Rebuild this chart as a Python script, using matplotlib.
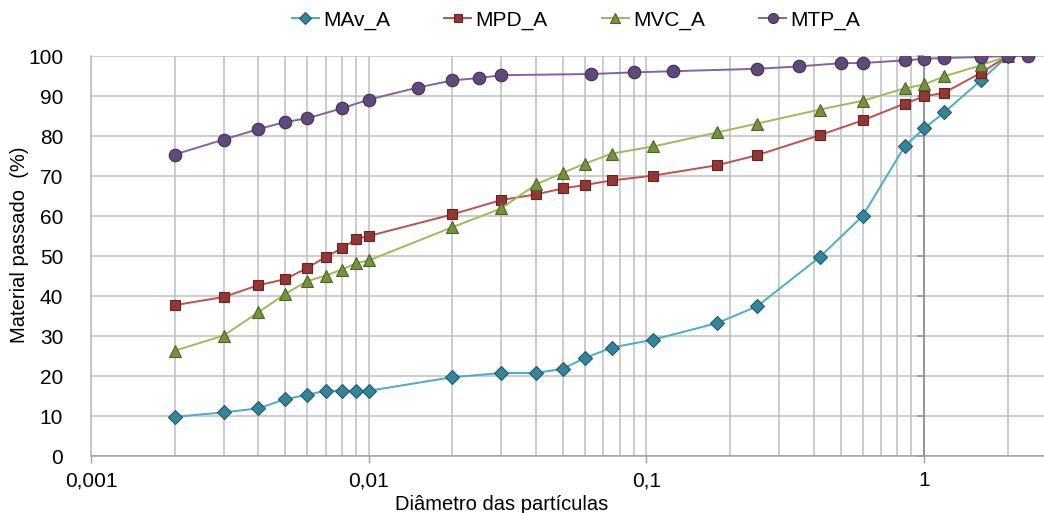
import numpy as np
import matplotlib
matplotlib.use("Agg")
import matplotlib.pyplot as plt
from matplotlib import font_manager
from matplotlib.ticker import FixedLocator, FuncFormatter, NullFormatter, LogLocator

# sieve / sedimentation diameters (mm)
diam = [0.002, 0.003, 0.004, 0.005, 0.006, 0.007, 0.008, 0.009, 0.01, 0.02, 0.03,
        0.04, 0.05, 0.06, 0.075, 0.106, 0.18, 0.25, 0.42, 0.6, 0.85, 1.0, 1.18, 1.6, 2.0]
mav = [9.8, 10.9, 11.9, 14.2, 15.3, 16.3, 16.3, 16.3, 16.3, 19.7, 20.75,
       20.75, 21.8, 24.5, 27.1, 29.1, 33.25, 37.4, 49.7, 60.0, 77.4, 81.9, 85.9, 93.9, 100]
mpd = [37.7, 39.75, 42.7, 44.2, 47.0, 49.8, 51.9, 54.2, 55.0, 60.4, 64.0,
       65.4, 66.9, 67.75, 68.9, 70.1, 72.7, 75.2, 80.2, 83.9, 88.1, 89.9, 90.8, 95.8, 100]
mvc = [26.3, 30.1, 35.9, 40.5, 43.7, 45.1, 46.6, 48.2, 48.9, 57.2, 61.9,
       67.9, 70.8, 73.1, 75.6, 77.4, 80.9, 83.1, 86.6, 88.8, 91.9, 92.9, 94.9, 97.7, 100]

diam_mtp = [0.002, 0.003, 0.004, 0.005, 0.006, 0.008, 0.01, 0.015, 0.02, 0.025, 0.03,
            0.063, 0.09, 0.125, 0.25, 0.355, 0.5, 0.6, 0.85, 1.0, 1.18, 1.6, 2.0, 2.36]
mtp = [75.35, 79.1, 81.7, 83.5, 84.4, 86.9, 89.1, 92.1, 93.9, 94.5, 95.2,
       95.5, 95.9, 96.2, 96.8, 97.4, 98.2, 98.25, 98.9, 99.3, 99.5, 99.75, 100, 100]

names = {f.name for f in font_manager.fontManager.ttflist}
narrow = 'Liberation Sans Narrow' if 'Liberation Sans Narrow' in names else 'Liberation Sans'
plt.rcParams['font.family'] = [narrow, 'DejaVu Sans']

fig = plt.figure(figsize=(10.44, 5.13), dpi=100)
ax = fig.add_axes([91/1044, 1-456/513, 1-91/1044, 400/513])

grid_c = '#BFBFBF'
series = [
    ('MAv_A', diam, mav, '#4BACC6', '#215968', '#31859C', 'D', 7.5),
    ('MPD_A', diam, mpd, '#C0504D', '#632523', '#943634', 's', 7.5),
    ('MVC_A', diam, mvc, '#9BBB59', '#4F6228', '#76923C', '^', 8.5),
    ('MTP_A', diam_mtp, mtp, '#8064A2', '#3F3151', '#604A7B', 'o', 9),
]
for name, x, y, lc, mc, face, mk, ms in series:
    ax.plot(x, y, color=lc, lw=1.4, marker=mk, ms=ms, mfc=face, mec=mc,
            mew=0.8, label=name, zorder=3)

ax.set_xscale('log')
ax.set_xlim(0.001, 2.7)
ax.set_ylim(0, 100)

ax.xaxis.set_major_locator(FixedLocator([0.001, 0.01, 0.1, 1]))
ax.xaxis.set_minor_locator(LogLocator(base=10, subs=np.arange(2, 10)))
ax.xaxis.set_minor_formatter(NullFormatter())
ax.xaxis.set_major_formatter(FuncFormatter(lambda v, p: ('%g' % v).replace('.', ',')))
yt = np.arange(0, 101, 10)
ax.set_yticks(yt)

ax.grid(True, which='both', axis='x', color=grid_c, lw=1.1)
ax.grid(True, which='major', axis='y', color=grid_c, lw=1.1)
ax.set_axisbelow(True)

for s in ['top', 'right']:
    ax.spines[s].set_visible(False)
ax.spines['left'].set_color(grid_c)
ax.spines['left'].set_linewidth(1.1)
ax.spines['bottom'].set_color('#A0A0A0')
ax.spines['bottom'].set_linewidth(1.1)

ax.tick_params(axis='x', which='major', length=5, width=1, color='#A0A0A0',
               labelsize=15, pad=6)
ax.tick_params(axis='x', which='minor', length=0)
ax.tick_params(axis='y', length=0, labelsize=15, pad=20)

# value axis crosses at x = 1
ax.axvline(1, color='#8C8C8C', lw=1.2, zorder=2)
ax.plot(np.ones(len(yt)), yt, ls='none', marker=0, ms=5, mew=1.1,
        color='#8C8C8C', clip_on=False, zorder=2)

fig.text(20/1044, 1-245/513, 'Material passado  (%)', fontsize=14.5,
         rotation=90, ha='center', va='center')
fig.text(502/1044, 1-504/513, 'Diâmetro das partículas', fontsize=14.5,
         ha='center', va='center')

fig.legend(loc='center', bbox_to_anchor=(576/1044, 1-20/513), ncol=4,
           frameon=False, fontsize=15, handlelength=1.3, columnspacing=2.6,
           handletextpad=0.2, markerscale=0.8)

fig.savefig('out.png', dpi=100)
